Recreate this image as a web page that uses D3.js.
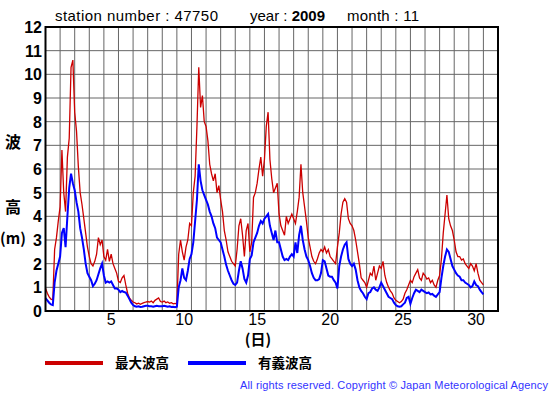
<!DOCTYPE html>
<html>
<head>
<meta charset="utf-8">
<script src="https://cdn.jsdelivr.net/npm/d3@7"></script>
<style>
  body { margin: 0; background: #fff; }
  svg { display: block; font-family: "Liberation Sans", Arial, sans-serif; }
</style>
</head>
<body>
<svg width="555" height="395"></svg>
<script>
// 3-hourly readings, day 0 .. day 30 (8 per day + final)
const maxWave = [
  0.96, 0.75, 0.6, 0.5, 0.47, 2.6, 3.1, 3.8,
  4.4, 6.8, 5.0, 4.2, 6.5, 7.3, 10.3, 10.6,
  8.4, 7.6, 6.1, 5.0, 4.5, 3.9, 3.3, 2.7,
  2.3, 2.0, 1.9, 2.1, 2.4, 3.1, 2.8, 3.0,
  2.3, 2.15, 2.6, 2.1, 2.4, 2.0, 1.8, 1.6,
  1.25, 1.2, 1.4, 1.5, 1.1, 0.75, 0.55, 0.45,
  0.38, 0.35, 0.3, 0.33, 0.28, 0.32, 0.35, 0.38,
  0.4, 0.38, 0.42, 0.35, 0.45, 0.5, 0.55, 0.4,
  0.38, 0.42, 0.35, 0.38, 0.33, 0.35, 0.3, 0.32,
  0.3, 2.4, 3.0, 2.5, 2.15, 2.7, 3.0, 3.7,
  3.6, 5.0, 5.7, 7.8, 10.3, 8.6, 9.1, 8.0,
  7.8, 7.2, 6.2, 5.8, 5.5, 5.8, 5.0, 5.3,
  4.7, 4.2, 3.4, 3.0, 2.5, 2.3, 2.1, 2.0,
  1.9, 2.6, 3.6, 3.9, 3.2, 2.3, 3.4, 3.7,
  2.5, 2.9, 4.8, 5.0, 5.4, 6.0, 6.5, 5.7,
  6.4, 7.8, 8.4, 6.4, 5.6, 5.0, 5.2, 5.4,
  4.1, 3.6, 3.4, 3.2, 4.0, 3.7, 3.9, 4.1,
  3.9, 3.7, 4.2, 4.8, 6.2, 5.0, 4.4, 3.8,
  3.1, 2.7, 2.3, 2.1, 2.0, 2.2, 2.45, 2.6,
  2.5, 2.7, 2.45, 2.6, 2.3, 2.2, 2.1, 2.0,
  2.7, 3.3, 4.1, 4.6, 4.75, 4.6, 3.9, 3.7,
  3.6, 3.4, 3.0, 2.5, 2.0, 1.4, 1.3, 1.2,
  1.0, 1.3, 1.6, 1.5, 1.9, 1.3, 1.6, 1.9,
  1.8, 2.1, 1.5, 1.2, 1.0, 0.85, 0.75, 0.55,
  0.45, 0.4, 0.35, 0.4, 0.5, 0.75, 0.9, 1.1,
  1.3, 1.2, 1.45, 1.6, 1.75, 1.4, 1.3, 1.6,
  1.5, 1.35, 1.4, 1.2, 1.3, 1.1, 1.0, 1.3,
  1.5, 2.2, 3.3, 4.1, 4.9, 3.9, 3.6, 3.4,
  3.0, 2.5, 2.3, 2.3, 2.15, 2.2, 2.0, 1.9,
  1.8, 2.0, 1.9, 1.7, 2.0, 1.6, 1.3, 1.2,
  1.1
];
const sigWave = [
  0.54, 0.45, 0.35, 0.28, 0.25, 1.2, 1.7, 2.0,
  2.3, 3.3, 3.5, 2.7, 4.0, 5.2, 5.8, 5.4,
  5.1, 4.6, 4.2, 3.5, 3.1, 2.6, 2.0, 1.6,
  1.45, 1.3, 1.05, 1.15, 1.3, 1.55, 1.8, 2.0,
  1.5, 1.2, 1.25, 1.2, 1.25, 1.1, 0.95, 0.95,
  0.9, 0.8, 0.85, 0.8, 0.78, 0.65, 0.5, 0.35,
  0.25, 0.2, 0.18, 0.2, 0.17, 0.18, 0.2, 0.22,
  0.22, 0.2, 0.2, 0.18, 0.2, 0.22, 0.2, 0.2,
  0.2, 0.22, 0.2, 0.18, 0.2, 0.17, 0.18, 0.16,
  0.18, 1.0, 1.3, 1.8, 1.4, 1.3, 1.7, 2.2,
  2.4, 2.9, 3.8, 4.7, 6.2, 5.5, 5.1, 4.9,
  4.7, 4.5, 4.2, 4.0, 3.7, 3.5, 3.1, 3.0,
  2.9, 2.6, 2.3, 1.95, 1.7, 1.5, 1.3, 1.15,
  1.1, 1.2, 1.7, 2.1, 1.8, 1.35, 1.2, 1.5,
  2.2, 2.35, 2.9, 3.1, 3.3, 3.6, 3.8, 3.7,
  3.9, 4.0, 4.1, 3.6, 3.3, 3.0, 3.4, 2.9,
  2.9, 2.6, 2.3, 2.15, 2.2, 2.15, 2.3, 2.4,
  2.3, 2.9, 2.45, 3.2, 3.6, 3.0, 2.6, 2.3,
  2.15, 1.9, 1.6, 1.4, 1.3, 1.3, 1.35, 1.6,
  2.15, 2.1, 1.8, 1.5, 1.45, 1.45, 1.3, 1.2,
  0.95, 1.9, 2.3, 2.6, 2.8, 2.9, 2.2, 2.0,
  1.9, 2.0, 1.75, 1.3, 1.0, 0.85, 0.75, 0.6,
  0.5, 0.75, 0.8, 0.95, 1.0, 0.9, 0.85, 1.0,
  1.2, 1.05, 0.9, 0.75, 0.6, 0.55, 0.5, 0.35,
  0.25, 0.2, 0.18, 0.2, 0.28, 0.35, 0.55, 0.6,
  0.3, 0.55, 0.75, 0.9, 0.85, 0.8, 0.9, 0.85,
  0.8, 0.75, 0.78, 0.7, 0.72, 0.65, 0.6, 0.7,
  0.8, 1.4, 1.9, 2.3, 2.6, 2.5, 2.2, 1.9,
  1.75, 1.6, 1.5, 1.45, 1.3, 1.3, 1.2, 1.15,
  1.1, 1.0, 1.05, 1.25, 1.1, 1.05, 0.9, 0.8,
  0.7
];
const dayTicks = [5, 10, 15, 20, 25, 30];
const heightTicks = d3.range(0, 13);
const stepsPerDay = 8;

const svg = d3.select("svg");
const margin = { top: 27, left: 45.5, right: 57, bottom: 84 };
const width = +svg.attr("width");
const height = +svg.attr("height");

const xScale = d3.scaleLinear().domain([0, 31]).range([margin.left, width - margin.right]);
const yScale = d3.scaleLinear().domain([0, 12]).range([height - margin.bottom, margin.top]);

// grid
svg.append("g")
  .selectAll("line")
  .data(d3.range(1, 31))
  .enter().append("line")
  .attr("x1", d => xScale(d)).attr("x2", d => xScale(d))
  .attr("y1", yScale(0)).attr("y2", yScale(12))
  .attr("stroke", "#666").attr("stroke-width", 1);
svg.append("g")
  .selectAll("line")
  .data(d3.range(1, 12))
  .enter().append("line")
  .attr("x1", xScale(0)).attr("x2", xScale(31))
  .attr("y1", d => yScale(d)).attr("y2", d => yScale(d))
  .attr("stroke", "#666").attr("stroke-width", 1);

const line = d3.line()
  .x((d, i) => xScale(i / stepsPerDay))
  .y(d => yScale(d));

svg.append("path").datum(maxWave)
  .attr("d", line)
  .attr("fill", "none").attr("stroke", "#cc0000").attr("stroke-width", 1.3);
svg.append("path").datum(sigWave)
  .attr("d", line)
  .attr("fill", "none").attr("stroke", "#0000ff").attr("stroke-width", 2);

// frame
svg.append("rect")
  .attr("x", xScale(0)).attr("y", yScale(12))
  .attr("width", xScale(31) - xScale(0))
  .attr("height", yScale(0) - yScale(12))
  .attr("fill", "none").attr("stroke", "#000").attr("stroke-width", 2);

// y labels
svg.append("g")
  .selectAll("text")
  .data(heightTicks)
  .enter().append("text")
  .attr("x", 42).attr("y", d => yScale(d) + 6)
  .attr("text-anchor", "end")
  .attr("font-size", 16).attr("font-weight", "bold")
  .text(d => d);

// x labels (centred on the day)
svg.append("g")
  .selectAll("text")
  .data(dayTicks)
  .enter().append("text")
  .attr("x", d => xScale(d - 0.5)).attr("y", 325)
  .attr("text-anchor", "middle")
  .attr("font-size", 16)
  .text(d => d);

// title
svg.append("text").attr("x", 55).attr("y", 21).attr("font-size", 15)
  .attr("textLength", 163).attr("lengthAdjust", "spacing")
  .text("station number : 47750");
const yr = svg.append("text").attr("x", 250).attr("y", 21).attr("font-size", 15);
yr.append("tspan").text("year : ");
yr.append("tspan").attr("font-weight", "bold").text("2009");
svg.append("text").attr("x", 347).attr("y", 21).attr("font-size", 15)
  .attr("textLength", 72).attr("lengthAdjust", "spacing")
  .text("month : 11");

const cjk = "'Noto Sans CJK JP', sans-serif";
svg.append("text").attr("x", 13).attr("y", 148).attr("text-anchor", "middle")
  .attr("font-family", cjk).attr("font-size", 16).attr("font-weight", "bold").text("波");
svg.append("text").attr("x", 13).attr("y", 213).attr("text-anchor", "middle")
  .attr("font-family", cjk).attr("font-size", 16).attr("font-weight", "bold").text("高");
svg.append("text").attr("x", 13).attr("y", 244).attr("text-anchor", "middle")
  .attr("font-family", cjk).attr("font-size", 15).attr("font-weight", "bold").text("(m)");
svg.append("text").attr("x", 258).attr("y", 345).attr("text-anchor", "middle")
  .attr("font-family", cjk).attr("font-size", 15).attr("font-weight", "bold").text("(日)");

// legend
const legend = [
  { label: "最大波高", color: "#cc0000", x: 45 },
  { label: "有義波高", color: "#0000ff", x: 188 }
];
const lg = svg.append("g").selectAll("g").data(legend).enter().append("g");
lg.append("line")
  .attr("x1", d => d.x).attr("x2", d => d.x + 58)
  .attr("y1", 363).attr("y2", 363)
  .attr("stroke", d => d.color).attr("stroke-width", 4);
lg.append("text")
  .attr("x", d => d.x + 70).attr("y", 368)
  .attr("font-family", cjk).attr("font-size", 13.5).attr("font-weight", "bold")
  .text(d => d.label);

svg.append("text")
  .attr("x", 240).attr("y", 389)
  .attr("font-size", 11).attr("fill", "#3333ff")
  .attr("textLength", 308).attr("lengthAdjust", "spacing")
  .text("All rights reserved. Copyright © Japan Meteorological Agency");
</script>
</body>
</html>
